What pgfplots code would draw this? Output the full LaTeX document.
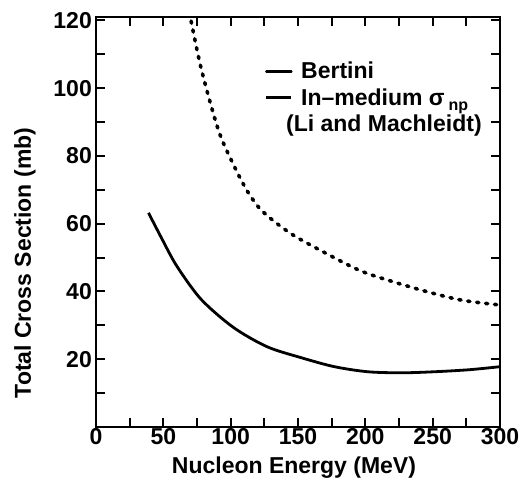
\documentclass[border=0pt]{standalone}
\usepackage{pgfplots}
\pgfplotsset{compat=1.18}
\usepackage{fontspec}
\setmainfont{Liberation Sans}
\newcommand{\lblfont}{\fontsize{23}{27}\selectfont\bfseries}
\begin{document}
\begin{tikzpicture}
\useasboundingbox (-96pt,-61pt) rectangle (433pt,427pt);
\begin{axis}[
  at={(0pt,0pt)}, anchor=south west,
  scale only axis, width=404pt, height=410pt,
  xmin=0, xmax=300, ymin=0, ymax=121,
  xtick={0,50,...,300}, minor xtick={25,75,...,275},
  ytick={20,40,...,120}, minor ytick={10,30,...,110},
  tick align=inside,
  major tick length=9pt, minor tick length=9pt,
  every tick/.style={black, line width=2pt},
  axis line style={line width=2.6pt},
  tick label style={font=\lblfont, /pgf/number format/assume math mode=true},
  xticklabel style={inner sep=1pt},
  yticklabel style={inner sep=4pt},
  xlabel={Nucleon Energy (MeV)}, ylabel={Total Cross Section (mb)},
  every axis x label/.style={at={(axis description cs:0.49,-0.1)}, anchor=center, font=\lblfont},
  every axis y label/.style={at={(axis description cs:-0.176,0.40)}, anchor=center, rotate=90, font=\lblfont},
  legend style={at={(axis description cs:0.418,0.895)}, anchor=north west, draw=none, fill=none, font=\lblfont, row sep=4pt, inner sep=0pt},
  legend cell align=left,
  legend image code/.code={\draw[solid, line width=2.6pt] (0pt,0pt) -- (25pt,0pt); \path (31pt,0pt);},
]
\addplot[black, line width=3.6pt, line cap=round, dash pattern=on 2.2pt off 6.8pt, smooth] coordinates {
(68,125) (70,121) (78.4,105.3) (91,87.5) (102,77.5) (112.7,69.4) (124,63.5) (145,57) (172,51) (197,46) (222,42.7) (247,39.8) (272,37.4) (300,36)
};
\addlegendentry{Bertini}
\addplot[black, line width=2.8pt, smooth] coordinates {
(39,63.2) (49,55.5) (60,47.5) (78,37.7) (102,29.4) (127,23.7) (152,20.5) (177,17.8) (202,16.3) (227,16) (251,16.3) (277,16.9) (300,17.8)
};
\addlegendentry{In--medium σ\,\raisebox{-0.45ex}{\fontsize{16}{16}\selectfont np}}
\addlegendimage{empty legend}
\addlegendentry{\hspace*{-15pt}(Li and Machleidt)}
\end{axis}
\end{tikzpicture}
\end{document}
